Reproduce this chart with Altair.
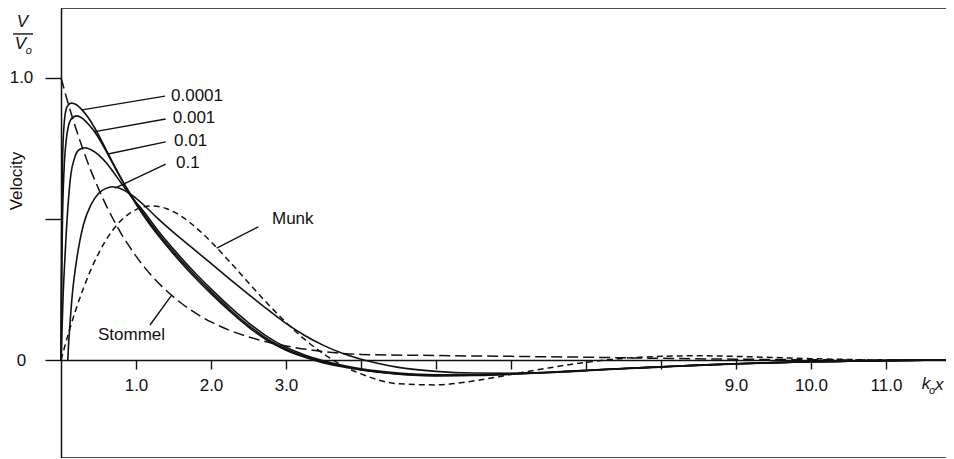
import altair as alt
import pandas as pd

# ---------------- data ----------------
X_MAX = 11.8
Y_MIN, Y_MAX = -0.347, 1.247

STOMMEL = [(0, 1.0), (0.1, 0.905), (0.2, 0.819), (0.3, 0.741), (0.4, 0.67), (0.5, 0.607),
           (0.6, 0.549), (0.7, 0.497), (0.8, 0.449), (0.9, 0.407), (1.0, 0.368), (1.2, 0.301),
           (1.4, 0.247), (1.6, 0.202), (1.8, 0.165), (2.0, 0.135), (2.25, 0.105), (2.5, 0.082),
           (2.75, 0.064), (3.0, 0.05), (3.5, 0.03), (4.0, 0.02), (5.0, 0.016), (6.0, 0.013),
           (7.0, 0.01), (8.0, 0.006), (9.0, 0.003), (10.0, 0.001), (11.0, 0.0), (11.8, 0.0)]

MUNK = [(0, 0), (0.1, 0.095), (0.2, 0.18), (0.3, 0.255), (0.4, 0.321), (0.5, 0.377), (0.6, 0.425),
        (0.8, 0.494), (1.0, 0.533), (1.2, 0.546), (1.4, 0.537), (1.6, 0.51), (1.8, 0.469),
        (2.0, 0.419), (2.25, 0.348), (2.5, 0.274), (2.75, 0.201), (3.0, 0.133), (3.25, 0.073),
        (3.5, 0.022), (3.75, -0.019), (4.0, -0.049), (4.5, -0.084), (5.0, -0.088), (5.5, -0.074),
        (6.0, -0.051), (6.5, -0.028), (7.0, -0.008), (7.5, 0.006), (8.0, 0.013), (8.5, 0.015),
        (9.0, 0.013), (9.5, 0.009), (10.0, 0.005), (10.5, 0.002), (11.0, 0.0), (11.8, 0.0)]

E_0001 = [(0, 0), (0.005, 0.3), (0.01, 0.5), (0.02, 0.7), (0.04, 0.83), (0.07, 0.89), (0.1, 0.905),
          (0.14, 0.91), (0.2, 0.905), (0.28, 0.886), (0.36, 0.86), (0.45, 0.822), (0.55, 0.772),
          (0.65, 0.72), (0.75, 0.669), (0.85, 0.62), (0.95, 0.574), (1.1, 0.512), (1.3, 0.44),
          (1.5, 0.376), (1.75, 0.302), (2.0, 0.235), (2.25, 0.173), (2.5, 0.117), (2.75, 0.07),
          (3.0, 0.035), (3.25, 0.01), (3.5, -0.01), (3.75, -0.024), (4.0, -0.035), (4.5, -0.05),
          (5.0, -0.056), (5.5, -0.055), (6.0, -0.05), (6.5, -0.044), (7.0, -0.037), (7.5, -0.03),
          (8.0, -0.024), (8.5, -0.018), (9.0, -0.013), (9.5, -0.009), (10.0, -0.006),
          (10.5, -0.004), (11.0, -0.002), (11.8, 0)]

E_001 = [(0, 0), (0.005, 0.18), (0.01, 0.32), (0.02, 0.5), (0.04, 0.67), (0.07, 0.78), (0.1, 0.83),
         (0.15, 0.858), (0.21, 0.865), (0.28, 0.857), (0.36, 0.837), (0.45, 0.808), (0.55, 0.765),
         (0.65, 0.716), (0.75, 0.667), (0.85, 0.62), (0.95, 0.577), (1.1, 0.519), (1.3, 0.447),
         (1.5, 0.384), (1.75, 0.31), (2.0, 0.243), (2.25, 0.18), (2.5, 0.123), (2.75, 0.075),
         (3.0, 0.039), (3.25, 0.013), (3.5, -0.007), (3.75, -0.022), (4.0, -0.034), (4.5, -0.049),
         (5.0, -0.055), (5.5, -0.054), (6.0, -0.05), (6.5, -0.044), (7.0, -0.037), (7.5, -0.03),
         (8.0, -0.024), (8.5, -0.018), (9.0, -0.013), (9.5, -0.009), (10.0, -0.006),
         (10.5, -0.004), (11.0, -0.002), (11.8, 0)]

E_01 = [(0, 0), (0.01, 0.08), (0.02, 0.16), (0.03, 0.24), (0.044, 0.32), (0.07, 0.45), (0.1, 0.57),
        (0.133, 0.66), (0.18, 0.715), (0.24, 0.745), (0.32, 0.752), (0.4, 0.745), (0.5, 0.727),
        (0.6, 0.7), (0.7, 0.665), (0.8, 0.628), (0.9, 0.592), (1.0, 0.559), (1.1, 0.527),
        (1.3, 0.456), (1.5, 0.393), (1.75, 0.319), (2.0, 0.252), (2.25, 0.189), (2.5, 0.132),
        (2.75, 0.083), (3.0, 0.045), (3.25, 0.018), (3.5, -0.003), (3.75, -0.019), (4.0, -0.031),
        (4.5, -0.046), (5.0, -0.052), (5.5, -0.052), (6.0, -0.048), (6.5, -0.043), (7.0, -0.036),
        (7.5, -0.03), (8.0, -0.024), (8.5, -0.018), (9.0, -0.013), (9.5, -0.009), (10.0, -0.006),
        (10.5, -0.004), (11.0, -0.002), (11.8, 0)]

E_1 = [(0.09, 0), (0.1, 0.05), (0.12, 0.13), (0.15, 0.23), (0.2, 0.34), (0.25, 0.42), (0.3, 0.48),
       (0.4, 0.55), (0.5, 0.59), (0.6, 0.608), (0.68, 0.614), (0.75, 0.611), (0.85, 0.6),
       (0.95, 0.583), (1.1, 0.55), (1.3, 0.499), (1.5, 0.452), (1.75, 0.397), (2.0, 0.342),
       (2.25, 0.287), (2.5, 0.233), (2.75, 0.18), (3.0, 0.13), (3.25, 0.087), (3.5, 0.052),
       (3.75, 0.024), (4.0, 0.003), (4.25, -0.013), (4.5, -0.026), (5.0, -0.04), (5.5, -0.046),
       (6.0, -0.047), (6.5, -0.044), (7.0, -0.038), (7.5, -0.031), (8.0, -0.025), (8.5, -0.019),
       (9.0, -0.014), (9.5, -0.01), (10.0, -0.006), (10.5, -0.004), (11.0, -0.002), (11.8, 0)]

# curve labels: (text, x, v)
CURVE_LABELS = [("0.0001", 1.467, 0.935), ("0.001", 1.49, 0.857), ("0.01", 1.507, 0.776),
                ("0.1", 1.533, 0.698), ("Munk", 2.813, 0.50), ("Stommel", 0.493, 0.089)]
# leader lines: (x1, v1, x2, v2)
LEADERS = [(0.28, 0.886, 1.387, 0.935), (0.453, 0.809, 1.396, 0.854),
           (0.627, 0.73, 1.396, 0.773), (0.72, 0.609, 1.396, 0.694),
           (2.076, 0.396, 2.631, 0.472), (1.187, 0.124, 1.476, 0.230)]

X_TICKS = [1, 2, 3, 4, 5, 6, 7, 8, 9, 10, 11]
Y_TICKS = [0, 0.5, 1.0]

# ---------------- build tables ----------------
def table(pts, name):
    return pd.DataFrame([{"series": name, "x": x, "v": v, "i": i} for i, (x, v) in enumerate(pts)])

solid_df = pd.concat([table(E_0001, "0.0001"), table(E_001, "0.001"),
                      table(E_01, "0.01"), table(E_1, "0.1")], ignore_index=True)
munk_df = table(MUNK, "Munk")
stommel_df = table(STOMMEL, "Stommel")
lab_df = pd.DataFrame(CURVE_LABELS, columns=["t", "x", "v"])
lead_df = pd.DataFrame(LEADERS, columns=["x", "v", "x2", "v2"])
frame_df = pd.DataFrame({"x": [0, 0], "x2": [X_MAX, X_MAX], "v": [Y_MIN, Y_MAX]})

FONT = "Liberation Sans"
INK = "#111111"
FS = 17

xs = alt.Scale(domain=[0, X_MAX], nice=False, zero=False)
ys = alt.Scale(domain=[Y_MIN, Y_MAX], nice=False, zero=False)

x_axis = alt.Axis(values=X_TICKS,
                  labelExpr="(datum.value <= 3 || datum.value >= 9) ? format(datum.value, '.1f') : ''",
                  offset=-98, tickSize=9, tickWidth=1.4, tickColor=INK,
                  domainColor=INK, domainWidth=1.5, labelFont=FONT, labelFontSize=FS,
                  labelColor=INK, labelPadding=8, grid=False, title=None, labelFlush=False)
y_axis = alt.Axis(values=Y_TICKS,
                  labelExpr="datum.value == 1 ? '1.0' : (datum.value == 0 ? '0' : '')",
                  tickSize=16, tickWidth=1.4, tickColor=INK, domainColor=INK, domainWidth=1.5,
                  labelFont=FONT, labelFontSize=FS, labelColor=INK, labelAlign="center",
                  labelPadding=24, grid=False, title=None, labelFlush=False)

X = alt.X("x:Q", scale=xs, axis=x_axis)
Y = alt.Y("v:Q", scale=ys, axis=y_axis)

solid = alt.Chart(solid_df).mark_line(color=INK, strokeWidth=1.6, interpolate="monotone").encode(
    x=X, y=Y, detail="series:N", order="i:Q")

munk = alt.Chart(munk_df).mark_line(color=INK, strokeWidth=1.5, strokeDash=[6, 4],
                                    interpolate="monotone").encode(x=X, y=Y, order="i:Q")

stommel = alt.Chart(stommel_df).mark_line(color=INK, strokeWidth=1.5, strokeDash=[11, 5],
                                          interpolate="monotone").encode(x=X, y=Y, order="i:Q")

frame = alt.Chart(frame_df).mark_rule(color=INK, strokeWidth=1.5).encode(x=X, x2="x2:Q", y=Y)

leaders = alt.Chart(lead_df).mark_rule(color=INK, strokeWidth=1.4).encode(
    x=X, y=Y, x2="x2:Q", y2="v2:Q")

labels = alt.Chart(lab_df).mark_text(align="left", baseline="middle", font=FONT,
                                     fontSize=FS, color=INK).encode(x=X, y=Y, text="t:N")

# axis captions placed in data units
vel_df = pd.DataFrame({"t": ["Velocity"], "x": [-0.587], "v": [0.634]})
velocity = alt.Chart(vel_df).mark_text(angle=270, align="center", baseline="middle",
                                       font=FONT, fontSize=FS, color=INK).encode(
    x=X, y=Y, text="t:N")

big_it_df = pd.DataFrame({"t": ["V", "V", "k", "x"],
                          "x": [-0.513, -0.54, 11.533, 11.71],
                          "v": [1.197, 1.119, -0.085, -0.088]})
big_it = alt.Chart(big_it_df).mark_text(align="center", baseline="middle", font=FONT,
                                        fontSize=FS, fontStyle="italic", color=INK).encode(
    x=X, y=Y, text="t:N")

sub_df = pd.DataFrame({"t": ["o", "o"], "x": [-0.43, 11.613], "v": [1.094, -0.108]})
subs = alt.Chart(sub_df).mark_text(align="center", baseline="middle", font=FONT,
                                   fontSize=11, fontStyle="italic", color=INK).encode(
    x=X, y=Y, text="t:N")

bar_df = pd.DataFrame({"x": [-0.64], "x2": [-0.373], "v": [1.155]})
frac_bar = alt.Chart(bar_df).mark_rule(color=INK, strokeWidth=1.4).encode(x=X, x2="x2:Q", y=Y)

chart = alt.layer(solid, munk, stommel, frame, leaders, labels, velocity, big_it, subs,
                  frac_bar).properties(
    width=885, height=450,
    autosize=alt.AutoSizeParams(type="none"),
    padding={"left": 53, "top": 0, "right": 0, "bottom": 0},
    background="white",
).configure_view(stroke=None)

chart.save("out.html", embed_options={"renderer": "svg", "actions": False})
